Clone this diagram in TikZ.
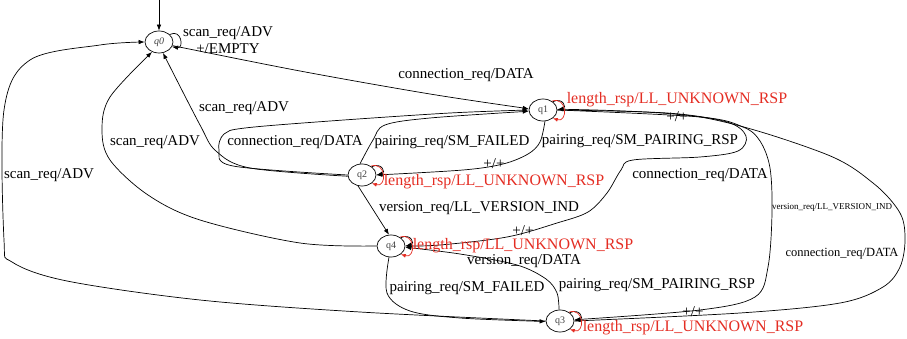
\documentclass[tikz,border=0pt]{standalone}
\usepackage{fontspec}
\setmainfont{Liberation Serif}
\usetikzlibrary{arrows.meta,shapes.geometric}
\definecolor{lred}{RGB}{228,45,35}
\begin{document}
\begin{tikzpicture}[x=1pt,y=-1pt,
  st/.style={draw, ellipse, line width=0.7pt, minimum width=28pt, minimum height=22pt, inner sep=0pt, font=\fontsize{10}{12}\selectfont, text=black!75},
  lbl/.style={font=\fontsize{15}{18}\selectfont, inner sep=0pt},
  slbl/.style={font=\fontsize{9}{11}\selectfont, inner sep=0pt},
  mlbl/.style={font=\fontsize{12.5}{15}\selectfont, inner sep=0pt},
  rlbl/.style={font=\fontsize{16}{19}\selectfont, text=lred, inner sep=0pt},
  edge/.style={line width=0.7pt, -{Latex[length=6pt,width=4.5pt]}},
  redge/.style={draw=lred, line width=0.7pt, -{Latex[length=5pt,width=4pt]}},
  sm/.style={smooth, tension=0.55}
]
\useasboundingbox (0,0) rectangle (907,339);
% states
\node[st] (q0) at (159,42) {\itshape q0};
\node[st] (q1) at (543,110) {q1};
\node[st] (q2) at (362,175) {q2};
\node[st] (q4) at (391,246) {q4};
\node[st] (q3) at (560,321) {q3};
\coordinate (init) at (159,0);
% initial
\draw[edge] (init) -- (q0.north);
% q0 self loop
\draw[edge] (q0.35) .. controls +(12,-6) and +(12,2) .. (q0.-20);
\node[lbl] (l0a) at (228,33) {scan\_req/ADV};
\node[lbl] (l0b) at (228,49) {+/EMPTY};
% q0 -> q1
\draw[edge] plot[sm] coordinates {(q0.-15) (300,71) (430,94) (q1.175)};
\node[lbl] (l01) at (466,75) {connection\_req/DATA};
% q2 -> q0
\draw[edge] plot[sm] coordinates {(q2.185) (250,168) (216,151) (200,125) (q0.-70)};
\node[lbl] (l20) at (244,108) {scan\_req/ADV};
% q4 -> q0
\draw[edge] plot[sm] coordinates {(q4.west) (300,243) (200,220) (148,195) (110,160) (102,130) (110,97) (q0.-125)};
\node[lbl] (l40) at (155,142) {scan\_req/ADV};
% q3 -> q0
\draw[edge] plot[sm] coordinates {(q3.west) (360,312) (200,300) (67,281) (12,262) (4,240) (4,110) (30,60) (100,45) (q0.west)};
\node[lbl] (l30) at (49,175) {scan\_req/ADV};
% q2 -> q1 (connection loop)
\draw[edge] plot[sm] coordinates {(q2.180) (233,166) (219,150) (224,134) (245,128) (330,121) (450,113) (q1.180)};
\node[lbl] (l21a) at (295,142) {connection\_req/DATA};
% q2 -> q1 (top)
\draw[edge] plot[sm] coordinates {(q2.100) (373,140) (385,125) (430,118) (q1.185)};
\node[lbl] (l21b) at (452,142) {pairing\_req/SM\_FAILED};
% q1 -> q2 (bottom)
\draw[edge] plot[sm] coordinates {(q1.-80) (540,142) (528,154) (503,164) (463,170) (q2.east)};
\node[lbl] (l12) at (640,141) {pairing\_req/SM\_PAIRING\_RSP};
% q2 -> q4
\draw[edge] (q2.-110) -- (q4.100);
\node[lbl] (l24) at (479,208) {version\_req/LL\_VERSION\_IND};
% q1 -> q4 (curve A)
\draw[edge] plot[sm] coordinates {(q1.east) (667,113) (727,122) (746,136) (738,151) (700,157) (633,160) (621,170) (607,193) (588,212) (557,223) (507,237) (440,245) (q4.east)};
\node[lbl] (l14) at (700,175) {connection\_req/DATA};
% q3 -> q4
\draw[edge] plot[sm] coordinates {(q3.95) (557,293) (546,279) (517,265) (460,254) (q4.-5)};
\node[lbl] (l34) at (524,261) {version\_req/DATA};
% q4 -> q3
\draw[edge] plot[sm] coordinates {(q4.-100) (387,293) (410,311) (460,318) (q3.182)};
\node[lbl] (l43) at (467,288) {pairing\_req/SM\_FAILED};
% q1 -> q3 (curve B)
\draw[edge] plot[sm] coordinates {(q1.east) (700,117) (743,127) (760,141) (770,168) (772,213) (768,267) (755,297) (700,310) (q3.5)};
\node[lbl] (l13) at (657,285) {pairing\_req/SM\_PAIRING\_RSP};
\node[slbl] (l13b) at (832,207) {version\_req/LL\_VERSION\_IND};
% q3 -> q1 (curve C)
\draw[edge] plot[sm] coordinates {(q3.east) (740,313) (840,303) (883,287) (900,267) (905,240) (900,213) (873,183) (823,153) (700,117) (q1.3)};
\node[mlbl] (l31) at (842,254) {connection\_req/DATA};
% self loops +/+ (black) and length_rsp (red)
\foreach \n in {q1,q2,q4,q3}{
  \draw[edge] (\n.40) .. controls +(10,-5) and +(10,-2) .. (\n.east);
  \draw[redge] (\n.45) .. controls +(16,-5) and +(15,5) .. (\n.-40);
}
\node[lbl] (p1) at (677,117) {+/+};
\node[rlbl] (r1) at (677,100) {length\_rsp/LL\_UNKNOWN\_RSP};
\node[lbl] (p2) at (494,164) {+/+};
\node[rlbl] (r2) at (494,182) {length\_rsp/LL\_UNKNOWN\_RSP};
\node[lbl] (p4) at (523,231) {+/+};
\node[rlbl] (r4) at (523,246) {length\_rsp/LL\_UNKNOWN\_RSP};
\node[lbl] (p3) at (693,312) {+/+};
\node[rlbl] (r3) at (693,328) {length\_rsp/LL\_UNKNOWN\_RSP};
\end{tikzpicture}
\end{document}
